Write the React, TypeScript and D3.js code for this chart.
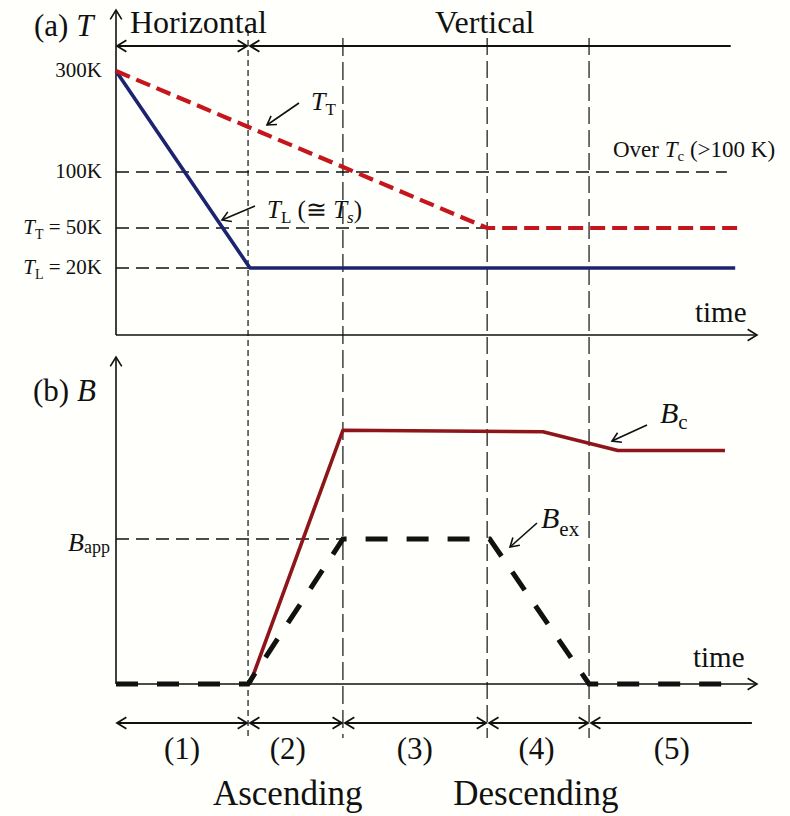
import React from 'react';
import * as d3 from 'd3';

// ---- data ----
const phaseBounds = [0, 20.6, 35.4, 57.9, 73.8];
const bracketEnd = 99.2;
const verticalBarEnd = 95.9;
const phaseLabels = ['(1)', '(2)', '(3)', '(4)', '(5)'];
const phaseLabelT = [10.3, 26.8, 46.6, 65.6, 86.7];
const modeLabels = ['Ascending', 'Descending'];
const modeLabelT = [26.8, 65.5];

const tempTickValues = [300, 100, 50, 20];
const tempTickSyms = ['', '', 'T', 'T'];
const tempTickSubs = ['', '', 'T', 'L'];
const tempTickTexts = ['300K', '100K', ' = 50K', ' = 20K'];
const tempGridEnds = [0, 95.3, 57.9, 20.9];

const T_T = [
  { t: 0, v: 300 },
  { t: 57.9, v: 50 },
  { t: 96.9, v: 50 },
];
const T_L = [
  { t: 0, v: 300 },
  { t: 20.9, v: 20 },
  { t: 96.6, v: 20 },
];
const B_c = [
  { t: 20.9, v: 0 },
  { t: 35.4, v: 1.75 },
  { t: 66.6, v: 1.74 },
  { t: 78.3, v: 1.61 },
  { t: 95.0, v: 1.61 },
];
const B_ex = [
  { t: 0, v: 0 },
  { t: 20.6, v: 0 },
  { t: 35.4, v: 1 },
  { t: 58.3, v: 1 },
  { t: 73.8, v: 0 },
  { t: 95.5, v: 0 },
];
const B_app = 1;
const B_appGridEnd = 35.4;

// ---- layout ----
const W = 790;
const H = 816;
const FONT = '"Liberation Serif", "Times New Roman", serif';
const x = d3.scaleLinear().domain([0, 100]).range([116, 757]);
const yT = d3.scaleLinear().domain([20, 50, 100, 300]).range([268, 228, 172, 71]);
const yB = d3.scaleLinear().domain([0, 1]).range([684, 539]);

const topAxisY = 335;
const topAxisTop = 10;
const botAxisTop = 357;
const bracketTopY = 46;
const bracketBotY = 723;

function chevron(tx: number, ty: number, angle: number, len = 11, spread = 0.55) {
  const a1 = angle + Math.PI - spread;
  const a2 = angle + Math.PI + spread;
  return `M${tx + len * Math.cos(a1)},${ty + len * Math.sin(a1)}L${tx},${ty}L${tx + len * Math.cos(a2)},${ty + len * Math.sin(a2)}`;
}

function Arrow({ x1, y1, x2, y2, w = 1.6, len = 11 }: any) {
  const ang = Math.atan2(y2 - y1, x2 - x1);
  return (
    <g stroke="#111" strokeWidth={w} fill="none">
      <line x1={x1} y1={y1} x2={x2} y2={y2} />
      <path d={chevron(x2, y2, ang, len)} />
    </g>
  );
}

export default function App() {
  const lineT = d3
    .line<{ t: number; v: number }>()
    .x((d) => x(d.t))
    .y((d) => yT(d.v));
  const lineB = d3
    .line<{ t: number; v: number }>()
    .x((d) => x(d.t))
    .y((d) => yB(d.v));

  const vDash = ['6 4', '18 6', '17 6', '17 6'];
  const vTop = [30, 38, 38, 38];

  return (
    <svg
      width={W}
      height={H}
      style={{ position: 'absolute', left: 0, top: 0, background: '#fffffb' }}
      fontFamily={FONT}
    >
      {/* vertical phase boundaries */}
      {phaseBounds.slice(1).map((b, i) => (
        <line
          key={'vb' + i}
          x1={x(b)}
          x2={x(b)}
          y1={vTop[i]}
          y2={738}
          stroke="#111"
          strokeWidth={1.2}
          strokeDasharray={vDash[i]}
        />
      ))}

      {/* temperature grid */}
      {tempTickValues.map((v, i) =>
        tempGridEnds[i] > 0 ? (
          <line
            key={'tg' + i}
            x1={x(0)}
            x2={x(tempGridEnds[i])}
            y1={yT(v)}
            y2={yT(v)}
            stroke="#111"
            strokeWidth={1.3}
            strokeDasharray="13 7"
          />
        ) : null
      )}
      {/* B_app grid */}
      <line
        x1={x(0)}
        x2={x(B_appGridEnd)}
        y1={yB(B_app)}
        y2={yB(B_app)}
        stroke="#111"
        strokeWidth={1.3}
        strokeDasharray="13 7"
      />

      {/* axes */}
      <Arrow x1={x(0)} y1={topAxisY} x2={x(0)} y2={topAxisTop} />
      <Arrow x1={x(0)} y1={topAxisY} x2={x(100)} y2={topAxisY} />
      <Arrow x1={x(0)} y1={yB(0)} x2={x(0)} y2={botAxisTop} />
      <Arrow x1={x(0)} y1={yB(0)} x2={x(100)} y2={yB(0)} />

      {/* top brackets */}
      <g stroke="#111" strokeWidth={1.8} fill="none">
        <line x1={x(phaseBounds[0]) + 1} x2={x(phaseBounds[1]) - 1} y1={bracketTopY} y2={bracketTopY} />
        <path d={chevron(x(phaseBounds[0]) + 1, bracketTopY, Math.PI)} />
        <path d={chevron(x(phaseBounds[1]) - 1, bracketTopY, 0)} />
        <line x1={x(phaseBounds[1]) + 2} x2={x(verticalBarEnd)} y1={bracketTopY} y2={bracketTopY} />
        <path d={chevron(x(phaseBounds[1]) + 2, bracketTopY, Math.PI)} />
      </g>

      {/* bottom brackets */}
      <g stroke="#111" strokeWidth={1.8} fill="none">
        {phaseBounds.map((b, i) => {
          const last = i === phaseBounds.length - 1;
          const x1 = x(b) + (i === 0 ? 1 : 2);
          const x2 = last ? x(bracketEnd) : x(phaseBounds[i + 1]) - 1;
          return (
            <g key={'bb' + i}>
              <line x1={x1} x2={x2} y1={bracketBotY} y2={bracketBotY} />
              <path d={chevron(x1, bracketBotY, Math.PI)} />
              {!last && <path d={chevron(x2, bracketBotY, 0)} />}
            </g>
          );
        })}
      </g>

      {/* series */}
      <path d={lineT(T_L) || ''} fill="none" stroke="#1c2370" strokeWidth={3.6} strokeLinejoin="round" />
      <path d={lineT(T_T) || ''} fill="none" stroke="#c4161c" strokeWidth={4.2} strokeDasharray="15 7" />
      <path d={lineB(B_c) || ''} fill="none" stroke="#8e1519" strokeWidth={3.6} strokeLinejoin="round" />
      <path d={lineB(B_ex) || ''} fill="none" stroke="#111" strokeWidth={5} strokeDasharray="22 19" />

      {/* tick labels */}
      {tempTickValues.map((v, i) => (
        <text key={'tl' + i} x={102} y={yT(v) + 6} textAnchor="end" fontSize={21} fill="#111">
          {tempTickSyms[i] && <tspan fontStyle="italic">{tempTickSyms[i]}</tspan>}
          {tempTickSubs[i] && (
            <tspan fontSize={14} dy={5}>
              {tempTickSubs[i]}
            </tspan>
          )}
          <tspan dy={tempTickSubs[i] ? -5 : 0}>{tempTickTexts[i]}</tspan>
        </text>
      ))}
      <text x={110} y={yB(B_app) + 12} textAnchor="end" fontSize={26} fill="#111">
        <tspan fontStyle="italic">B</tspan>
        <tspan fontSize={18} dy={2}>app</tspan>
      </text>

      {/* panel titles */}
      <text x={34} y={36} fontSize={31} fill="#111">
        (a) <tspan fontStyle="italic">T</tspan>
      </text>
      <text x={33} y={401} fontSize={31} fill="#111">
        (b) <tspan fontStyle="italic">B</tspan>
      </text>
      <text x={130} y={33} fontSize={32} fill="#111">Horizontal</text>
      <text x={435} y={33} fontSize={32} fill="#111">Vertical</text>
      <text x={695} y={322} fontSize={29} fill="#111">time</text>
      <text x={693} y={667} fontSize={29} fill="#111">time</text>

      {/* annotations */}
      <text x={613} y={157} fontSize={23} fill="#111">
        Over <tspan fontStyle="italic">T</tspan>
        <tspan fontSize={15} dy={4}>c</tspan>
        <tspan dy={-4}> (&gt;100 K)</tspan>
      </text>
      <Arrow x1={299} y1={103} x2={267} y2={125} len={10} />
      <text x={311} y={110} fontSize={26} fill="#111">
        <tspan fontStyle="italic">T</tspan>
        <tspan fontSize={17} dy={5}>T</tspan>
      </text>
      <Arrow x1={255} y1={206} x2={222} y2={220} len={10} />
      <text x={267} y={218} fontSize={25} fill="#111">
        <tspan fontStyle="italic">T</tspan>
        <tspan fontSize={17} dy={5}>L</tspan>
        <tspan dy={-5}> (≅ </tspan>
        <tspan fontStyle="italic">T</tspan>
        <tspan fontSize={17} dy={5} fontStyle="italic">s</tspan>
        <tspan dy={-5}>)</tspan>
      </text>
      <Arrow x1={647} y1={425} x2={612} y2={441} len={10} />
      <text x={660} y={423} fontSize={30} fill="#111">
        <tspan fontStyle="italic">B</tspan>
        <tspan fontSize={21} dy={6}>c</tspan>
      </text>
      <Arrow x1={537} y1={523} x2={510} y2={547} len={10} />
      <text x={541} y={528} fontSize={30} fill="#111">
        <tspan fontStyle="italic">B</tspan>
        <tspan fontSize={21} dy={8}>ex</tspan>
      </text>

      {/* phase labels */}
      {phaseLabels.map((l, i) => (
        <text key={'pl' + i} x={x(phaseLabelT[i])} y={759} textAnchor="middle" fontSize={31} fill="#111">
          {l}
        </text>
      ))}
      {modeLabels.map((l, i) => (
        <text key={'ml' + i} x={x(modeLabelT[i])} y={805} textAnchor="middle" fontSize={35} fill="#111">
          {l}
        </text>
      ))}
    </svg>
  );
}
